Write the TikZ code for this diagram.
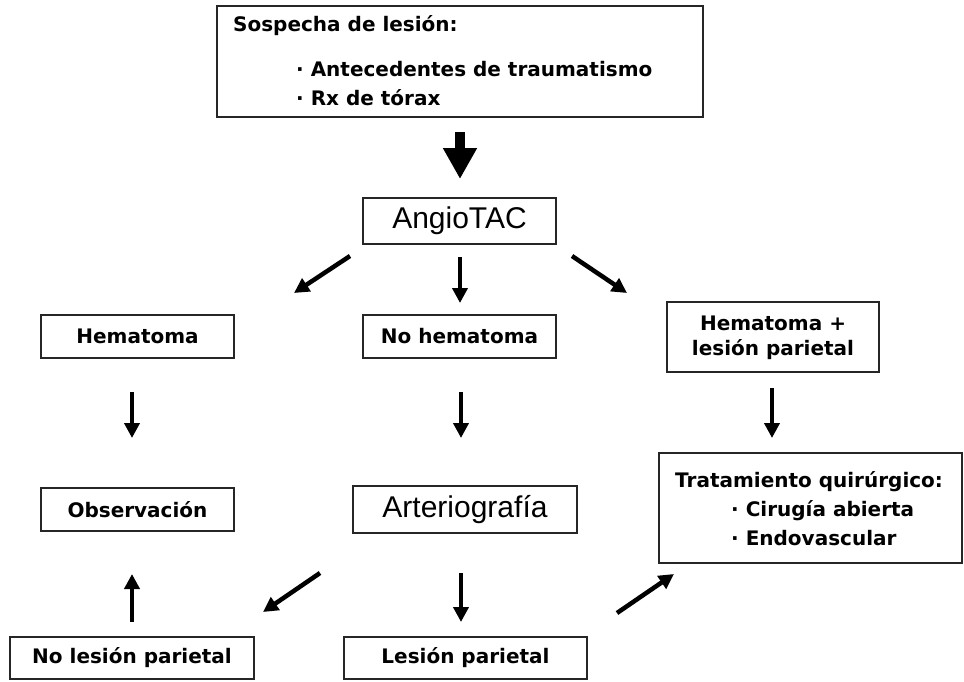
\documentclass[tikz,border=0pt]{standalone}
\usepackage{fontspec}
\setmainfont{DejaVu Sans}
\newfontfamily\arialfont{Liberation Sans}
\usetikzlibrary{arrows.meta}
\begin{document}
\begin{tikzpicture}[x=1pt,y=-1pt,
  box/.style={draw=black!85, line width=1.8pt, inner sep=0pt, fill=white},
  lbl/.style={font=\bfseries\fontsize{20}{25}\selectfont, text=black, inner sep=0pt},
  biglbl/.style={font=\arialfont\fontsize{30}{34}\selectfont, text=black, inner sep=0pt},
  arr/.style={line width=4.5pt, -{Triangle[length=15pt,width=15pt]}},
  bigarr/.style={line width=10pt, -{Triangle[length=31pt,width=32pt]}}]
\useasboundingbox (0,0) rectangle (964,681);
\fill[white] (0,0) rectangle (964,681);

% boxes
\node[box, minimum width=486pt, minimum height=111pt] (top) at (460,61.5) {};
\node[lbl, anchor=base west] (t1) at (233,31) {Sospecha de lesión:};
\node[lbl, anchor=base west] (t2) at (296,76) {· Antecedentes de traumatismo};
\node[lbl, anchor=base west] (t3) at (296,105) {· Rx de tórax};

\node[box, biglbl, minimum width=193pt, minimum height=46pt] (angio) at (459.5,221) {AngioTAC};

\node[box, lbl, minimum width=193pt, minimum height=43pt] (hem) at (137.5,336.5) {Hematoma};
\node[box, lbl, minimum width=193pt, minimum height=43pt] (nohem) at (459.5,336.5) {No hematoma};
\node[box, minimum width=212pt, minimum height=70pt] (hemles) at (773,337) {};
\node[lbl, anchor=base] (hl1) at (773,330) {Hematoma +};
\node[lbl, anchor=base] (hl2) at (773,355) {lesión parietal};

\node[box, lbl, minimum width=193pt, minimum height=43pt] (obs) at (137.5,509.5) {Observación};
\node[box, biglbl, minimum width=224pt, minimum height=47pt] (arter) at (465,509.5) {Arteriografía};
\node[box, minimum width=303pt, minimum height=110pt] (trat) at (810.5,508) {};
\node[lbl, anchor=base west] (tr1) at (675,487) {Tratamiento quirúrgico:};
\node[lbl, anchor=base west] (tr2) at (731,516) {· Cirugía abierta};
\node[lbl, anchor=base west] (tr3) at (731,545) {· Endovascular};

\node[box, lbl, minimum width=244pt, minimum height=42pt] (nolp) at (132,658) {No lesión parietal};
\node[box, lbl, minimum width=243pt, minimum height=42pt] (lp) at (465.5,658) {Lesión parietal};

% arrow end points
\coordinate (a0s) at (460,132); \coordinate (a0e) at (460,179);
\coordinate (a1s) at (350,256); \coordinate (a1e) at (294,293);
\coordinate (a2s) at (460,257); \coordinate (a2e) at (460,303);
\coordinate (a3s) at (572,256); \coordinate (a3e) at (627,293);
\coordinate (a4s) at (132,392); \coordinate (a4e) at (132,438);
\coordinate (a5s) at (461,392); \coordinate (a5e) at (461,438);
\coordinate (a6s) at (772,388); \coordinate (a6e) at (772,438);
\coordinate (a7s) at (132,622); \coordinate (a7e) at (132,574);
\coordinate (a8s) at (320,573); \coordinate (a8e) at (263,612);
\coordinate (a9s) at (461,573); \coordinate (a9e) at (461,622);
\coordinate (a10s) at (617,613); \coordinate (a10e) at (674,574);

\draw[bigarr] (a0s) -- (a0e);
\draw[arr] (a1s) -- (a1e);
\draw[arr] (a2s) -- (a2e);
\draw[arr] (a3s) -- (a3e);
\draw[arr] (a4s) -- (a4e);
\draw[arr] (a5s) -- (a5e);
\draw[arr] (a6s) -- (a6e);
\draw[arr] (a7s) -- (a7e);
\draw[arr] (a8s) -- (a8e);
\draw[arr] (a9s) -- (a9e);
\draw[arr] (a10s) -- (a10e);
\end{tikzpicture}
\end{document}
